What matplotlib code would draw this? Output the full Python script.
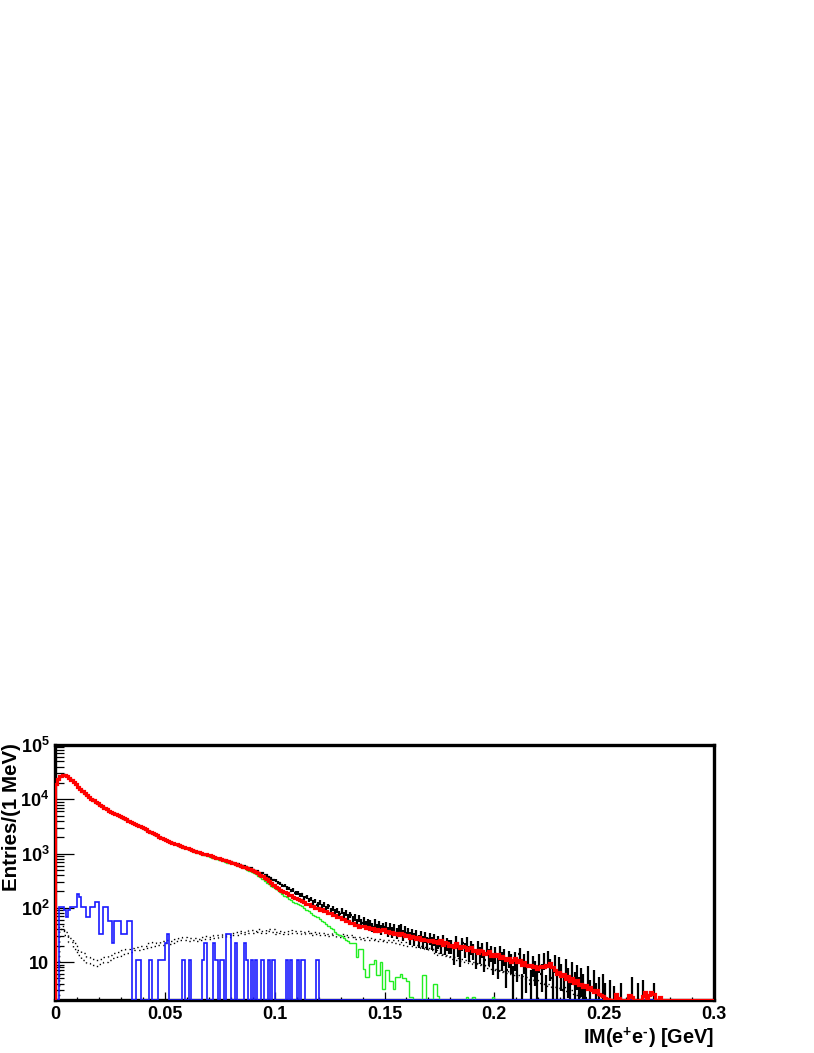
import numpy as np
import matplotlib
matplotlib.use("Agg")
import matplotlib.pyplot as plt
from matplotlib.ticker import LogLocator, MultipleLocator, NullFormatter

plt.rcParams["font.family"] = ["Liberation Sans", "DejaVu Sans"]
plt.rcParams["font.weight"] = "bold"
plt.rcParams["mathtext.fontset"] = "custom"
plt.rcParams["mathtext.rm"] = "Liberation Sans:bold"
plt.rcParams["mathtext.it"] = "Liberation Sans:bold"
plt.rcParams["mathtext.bf"] = "Liberation Sans:bold"

# 1 MeV bins from 0 to 0.3 GeV
bin_width = 0.001
n_bins = 300

# data (black points with error bars)
data_counts = [
    18500, 23500, 26200, 27300, 28100, 26800, 25100, 22800, 21100, 18800,
    17100, 15300, 14100, 12700, 11900, 10900, 10100, 9550, 8800, 8350,
    7850, 7450, 6900, 6550, 6250, 5800, 5550, 5300, 5100, 4850,
    4600, 4400, 4280, 3980, 3820, 3650, 3520, 3380, 3200, 3080,
    2930, 2760, 2640, 2470, 2360, 2230, 2160, 2010, 1940, 1850,
    1770, 1730, 1620, 1580, 1510, 1460, 1400, 1360, 1300, 1280,
    1230, 1200, 1150, 1120, 1070, 1050, 1010, 990, 950, 940,
    900, 890, 860, 830, 810, 790, 760, 750, 730, 700,
    690, 670, 650, 630, 610, 600, 580, 570, 550, 530,
    505, 480, 478, 440, 436, 402, 395, 362, 352, 325,
    318, 290, 284, 258, 256, 232, 230, 208, 212, 188,
    190, 172, 176, 152, 158, 140, 146, 126, 134, 114,
    126, 108, 116, 98, 106, 90, 98, 84, 90, 78,
    89, 72, 80, 66, 74, 60, 68, 54, 64, 52,
    58, 48, 54, 50, 44, 52, 42, 49, 40, 45,
    46, 37, 44, 36, 42, 34, 40, 43, 32, 38,
    35, 28, 34, 27, 32, 25, 31, 24, 29, 23,
    27, 23, 26, 21, 24, 20, 25, 19, 22, 20,
    20, 14, 24, 18, 13, 22, 17, 23, 15, 19,
    16, 12, 19, 14, 17, 11, 18, 13, 15, 10,
    14, 9, 15, 11, 13, 7, 12, 10, 5, 11,
    8, 14, 3, 10, 6, 12, 4, 9, 7, 5,
    10, 6, 11, 3, 12, 8, 5, 10, 4, 9,
    6, 3, 8, 5, 2.5, 7, 4, 6, 3, 5,
    4, 2.2, 6, 3, 0, 5, 2.5, 3.5, 0, 4,
    2.5, 0, 3, 0, 2.2, 0, 0, 2.5, 0, 0,
    0, 0, 3.5, 0, 0, 2.5, 0, 3, 0, 0,
    0, 0, 2.5, 0, 0, 0, 0, 0, 0, 0,
]

# total simulation (red)
total_sim = [
    19000, 24000, 26500, 27500, 28000, 27000, 25000, 23000, 21000, 19000,
    17000, 15500, 14000, 12800, 11800, 11000, 10200, 9500, 8900, 8400,
    7900, 7400, 7000, 6600, 6200, 5900, 5600, 5350, 5150, 4900,
    4650, 4450, 4250, 4050, 3850, 3700, 3550, 3400, 3250, 3100,
    2950, 2800, 2650, 2500, 2380, 2260, 2150, 2050, 1950, 1870,
    1790, 1720, 1650, 1590, 1530, 1470, 1420, 1370, 1330, 1290,
    1250, 1210, 1170, 1130, 1090, 1060, 1030, 1000, 970, 945,
    920, 895, 870, 845, 820, 795, 770, 748, 725, 703,
    680, 660, 640, 615, 595, 575, 560, 540, 515, 495,
    470, 450, 430, 410, 385, 360, 335, 310, 285, 265,
    245, 232, 212, 208, 192, 188, 172, 170, 158, 154,
    144, 142, 132, 130, 120, 119, 110, 109, 101, 100,
    93, 94, 86, 87, 80, 81, 74, 75, 68, 69,
    62, 63, 56, 57, 52, 53, 48, 49, 45, 46,
    46, 42, 44, 40, 42, 38, 41, 37, 39, 40,
    36, 38, 34, 36, 33, 35, 32, 34, 33, 30,
    31, 28, 30, 29, 27, 29, 26, 27, 25, 26,
    24, 26, 23, 24, 22, 25, 21, 23, 22, 20,
    21, 19, 22, 20, 18, 20, 19, 17, 18, 19,
    16, 17, 15, 17, 16, 14, 15, 16, 13, 14,
    13, 14, 12, 13, 12, 11, 12, 10, 11, 12,
    10, 11, 9, 10, 9, 8.5, 9, 8, 8.5, 7.5,
    8, 8.5, 8, 9, 8.5, 9.5, 8, 7, 6, 6.5,
    5.5, 6, 4.8, 5.5, 4.5, 5, 4.2, 4.6, 3.8, 4,
    3.5, 3.8, 3.2, 3.4, 3, 2.8, 3.1, 2.6, 2.5, 2.4,
    2.2, 2.1, 2.0, 0, 0, 2.6, 2.2, 0, 0, 0,
    0, 2.5, 2.3, 0, 0, 0, 0, 2.4, 2.8, 0,
    2.5, 2.8, 2.6, 0, 0, 2.3, 0, 0, 0, 0,
]

# conversion component (green)
green_sim = [
    18900, 23800, 26300, 27300, 27800, 26800, 24800, 22800, 20800, 18800,
    16800, 15300, 13800, 12600, 11600, 10800, 10000, 9300, 8700, 8200,
    7700, 7250, 6850, 6450, 6100, 5800, 5500, 5250, 5050, 4800,
    4550, 4350, 4150, 3950, 3750, 3600, 3450, 3300, 3150, 3000,
    2860, 2720, 2580, 2440, 2320, 2200, 2090, 1990, 1900, 1820,
    1740, 1670, 1600, 1540, 1480, 1420, 1370, 1320, 1280, 1240,
    1200, 1160, 1120, 1080, 1040, 1010, 980, 950, 920, 895,
    870, 845, 820, 795, 770, 745, 720, 700, 680, 660,
    660, 640, 615, 590, 570, 550, 530, 505, 480, 460,
    440, 415, 390, 365, 340, 315, 292, 272, 254, 238,
    225, 210, 195, 180, 168, 156, 146, 137, 130, 124,
    120, 114, 106, 98, 92, 86, 80, 75, 71, 68,
    62, 58, 54, 50, 46, 42, 40, 36, 33, 31,
    30, 28, 26, 24, 22, 22, 22, 12.5, 17.5, 17.5,
    7.6, 5.4, 5.4, 9.3, 9.3, 10.7, 5.7, 5.7, 10, 3.2,
    7, 7, 4.4, 4.4, 3.2, 5.4, 5.4, 6, 5, 5,
    4.4, 2.3, 2.3, 0, 0, 0, 0, 5.7, 5.7, 0,
    0, 0, 4, 4, 2.4, 0, 0, 0, 0, 0,
    0, 0, 0, 0, 0, 0, 0, 2.3, 0, 0,
    2.3, 0, 0, 0, 0, 0, 0, 0, 0, 2.3,
]

# small background component (blue)
blue_sim = [
    0, 0, 102, 102, 90, 67, 90, 102, 102, 102,
    178, 155, 102, 102, 67, 67, 102, 102, 126, 126,
    33, 33, 102, 102, 56, 56, 22, 56, 56, 56,
    33, 33, 33, 56, 56, 0, 0, 11, 11, 0,
    0, 0, 0, 11, 0, 0, 0, 11, 11, 11,
    22, 33, 0, 0, 0, 0, 0, 0, 11, 0,
    0, 11, 0, 0, 0, 0, 0, 11, 22, 0,
    0, 0, 22, 11, 0, 11, 11, 0, 33, 33,
    0, 0, 22, 0, 0, 0, 22, 11, 0, 11,
    0, 11, 0, 0, 11, 0, 0, 11, 0, 11,
    0, 0, 0, 0, 0, 11, 0, 11, 0, 0,
    11, 0, 11, 11, 0, 0, 0, 0, 0, 11,
]

# like-sign background band (dotted), 2 MeV bins starting at 0.002 GeV
bg_start = 0.002
bg_width = 0.002
bg_hi = [
    46, 36, 28, 22, 17, 14.5, 12.5, 11.5, 11, 11.5,
    12.5, 13.5, 14.5, 15.5, 16.5, 17.5, 18, 19, 20, 19.5,
    22, 23, 22, 24, 25.5, 24, 27, 28, 29, 27.5,
    28, 27, 28.5, 30, 29, 31.5, 31, 33, 32, 34,
    36, 38, 36, 39, 37, 40, 38, 41, 40, 36,
    38, 36, 39, 37, 38, 36, 38, 35, 36, 34,
    35, 33, 34, 32, 33, 31, 31, 29.5, 29, 28,
    28.5, 27, 27, 26, 26, 25, 25, 23.5, 23, 22,
    21.5, 20.5, 20, 19, 18, 16.5, 15, 14, 13.5, 12.5,
    12, 11.5, 11, 10.5, 10, 9.5, 9, 8.5, 8, 7.5,
    7.2, 6.8, 6.5, 6.2, 5.8, 5.5, 5.2, 5, 4.7, 4.4,
    4.2, 4, 3.8, 3.6, 3.4, 3.2, 3, 2.8, 2.6,
]
bg_lo = [
    40, 31, 23, 17.5, 13.5, 11, 9.8, 9, 8.6, 9.2,
    10, 11, 12, 13, 14, 15, 15.5, 16.5, 17, 17.5,
    19, 20, 20.5, 21, 22, 21.5, 24, 25, 25.5, 24.5,
    25.5, 24.5, 26, 27, 26.5, 28, 28.5, 30, 29, 31,
    32, 34, 33, 35, 34, 36, 34.5, 37, 36, 33,
    34.5, 33, 35, 34, 35, 33, 34.5, 32, 33, 31,
    32, 30.5, 31, 29.5, 30, 28.5, 28.5, 27, 26.5, 25.5,
    26, 25, 24.5, 24, 23.5, 23, 22.5, 21.5, 21, 20,
    19.5, 19, 18, 17.5, 16.5, 15, 13.5, 13, 12.5, 11.5,
    11, 10.5, 10, 9.6, 9.2, 8.8, 8.3, 7.8, 7.4, 7,
    6.7, 6.3, 6, 5.7, 5.4, 5.1, 4.8, 4.6, 4.3, 4.1,
    3.9, 3.7, 3.5, 3.3, 3.1, 2.9, 2.7, 2.5, 2.3,
]

x_ticks = [0, 0.05, 0.1, 0.15, 0.2, 0.25, 0.3]
x_tick_labels = ["0", "0.05", "0.1", "0.15", "0.2", "0.25", "0.3"]
y_ticks = [10, 1e2, 1e3, 1e4, 1e5]
y_tick_labels = ["10", "10$^{2}$", "10$^{3}$", "10$^{4}$", "10$^{5}$"]
y_min, y_max = 2.0, 1e5


def full(vals):
    v = np.asarray(vals, dtype=float)
    return np.pad(v, (0, n_bins - len(v)))


edges = np.arange(n_bins + 1) * bin_width
centers = edges[:-1] + bin_width / 2
data = full(data_counts)
red = full(total_sim)
green = full(green_sim)
blue = full(blue_sim)
bg_edges = bg_start + np.arange(len(bg_hi) + 1) * bg_width

# statistical error of data incl. subtracted background
bg_per_bin = np.zeros(n_bins)
i0 = int(round(bg_start / bin_width))
bg_rep = np.repeat(bg_hi, 2)
bg_per_bin[i0:i0 + len(bg_rep)] = bg_rep
err = np.sqrt(data + bg_per_bin)

fig = plt.figure(figsize=(8.14, 10.53), dpi=100)
ax = fig.add_axes([55 / 814, 1 - 1000 / 1053, 659 / 814, 255 / 1053])
ax.set_yscale("log")

# data points
m = data > 0
lo = np.maximum(data[m] - err[m], y_min * 0.5)
hi = data[m] + err[m]
ax.vlines(centers[m], lo, hi, color="black", lw=1.6, zorder=2)
ax.hlines(data[m], edges[:-1][m], edges[1:][m], color="black", lw=1.6, zorder=2)

# background band
ax.stairs(bg_hi, bg_edges, color="black", lw=1.0, ls=(0, (1, 2.5)), zorder=3)
ax.stairs(bg_lo, bg_edges, color="black", lw=1.0, ls=(0, (1, 2.5)), zorder=3)

ax.stairs(np.maximum(green, y_min), edges, baseline=y_min, color="#22ee22", lw=1.0, zorder=4)
ax.stairs(np.maximum(blue, y_min), edges, baseline=y_min, color="#1a1aff", lw=1.2, zorder=5)
ax.stairs(np.maximum(red, y_min), edges, baseline=y_min, color="#ff0000", lw=2.3, zorder=6)

ax.set_xlim(0, 0.3)
ax.set_ylim(y_min, y_max)

ax.set_xticks(x_ticks, x_tick_labels)
ax.xaxis.set_minor_locator(MultipleLocator(0.01))
ax.set_yticks(y_ticks, y_tick_labels)
ax.yaxis.set_minor_locator(LogLocator(base=10, subs=np.arange(2, 10), numticks=20))
ax.yaxis.set_minor_formatter(NullFormatter())

ax.tick_params(axis="both", which="both", direction="in", top=False, right=False,
               width=0.9, labelsize=13)
ax.tick_params(axis="y", which="major", length=14, pad=4)
ax.tick_params(axis="y", which="minor", length=6.5)
ax.tick_params(axis="x", which="major", length=5.5, pad=4)
ax.tick_params(axis="x", which="minor", length=2.5)
for lab in ax.get_xticklabels() + ax.get_yticklabels():
    lab.set_fontweight("bold")

for s in ax.spines.values():
    s.set_linewidth(2.4)

fig.text(714 / 814, 1 - 1038 / 1053, "IM(e$^{+}$e$^{\u2010}$) [GeV]", ha="right", va="center",
         fontsize=14.3, fontweight="bold")
fig.text(12 / 814, 1 - 743 / 1053, "Entries/(1 MeV)", rotation=90, ha="center", va="top",
         fontsize=14.8, fontweight="bold")

fig.savefig("out.png", dpi=100)
